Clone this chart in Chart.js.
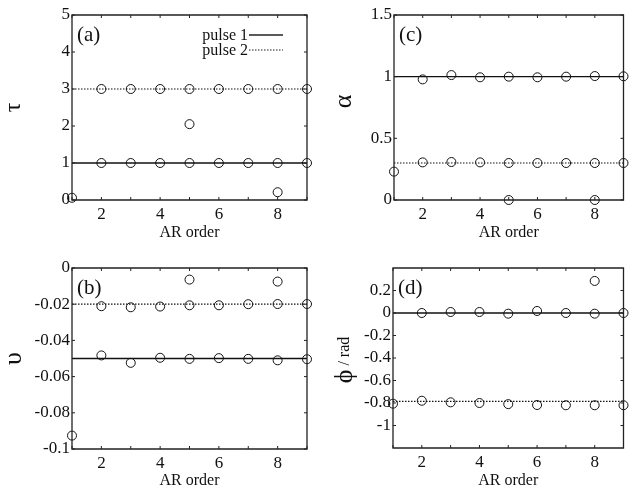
<!DOCTYPE html>
<html>
<head>
<meta charset="utf-8">
<script src="https://cdn.jsdelivr.net/npm/chart.js@4/dist/chart.umd.min.js"></script>
<style>
  html, body { margin: 0; padding: 0; background: #fff; }
  #wrap { position: relative; width: 629px; height: 490px; }
  .panel { position: absolute; }
</style>
</head>
<body>
<div id="wrap">
  <div class="panel" style="left:0;top:0"><canvas id="chartA" width="314" height="245"></canvas></div>
  <div class="panel" style="left:314px;top:0"><canvas id="chartC" width="315" height="245"></canvas></div>
  <div class="panel" style="left:0;top:245px"><canvas id="chartB" width="314" height="245"></canvas></div>
  <div class="panel" style="left:314px;top:245px"><canvas id="chartD" width="315" height="245"></canvas></div>
</div>
<script>
const SERIF = '"Liberation Serif", "DejaVu Serif", serif';

const orders = [1, 2, 3, 4, 5, 6, 7, 8, 9];

// estimates per AR order (null = no estimate for that pulse)
const tau1 = [null, 1.0, 1.0, 1.0, 1.0, 1.0, 1.0, 1.0, 1.0];
const tau2 = [null, 3.0, 3.0, 3.0, 3.0, 3.0, 3.0, 3.0, 3.0];
const tauExtra = [0.06, null, null, null, 2.05, null, null, 0.21, null];
const tauTrue = [1, 3];

const upsilon1 = [null, -0.0483, -0.0524, -0.0496, -0.0502, -0.0498, -0.0502, -0.051, -0.0504];
const upsilon2 = [null, -0.0211, -0.0217, -0.0213, -0.0206, -0.0206, -0.0200, -0.0199, -0.0199];
const upsilonExtra = [-0.0926, null, null, null, -0.0064, null, null, -0.0075, null];
const upsilonTrue = [-0.05, -0.02];

const alpha1 = [null, 0.978, 1.013, 0.995, 1.0, 0.995, 1.0, 1.005, 1.003];
const alpha2 = [null, 0.305, 0.308, 0.305, 0.300, 0.300, 0.300, 0.300, 0.300];
const alphaExtra = [0.23, null, null, null, 0.0, null, null, 0.0, null];
const alphaTrue = [1, 0.3];

const phi1 = [null, 0.0, 0.009, 0.009, -0.006, 0.018, 0.0, -0.006, 0.0];
const phi2 = [null, -0.78, -0.794, -0.80, -0.81, -0.818, -0.82, -0.82, -0.82];
const phiExtra = [-0.806, null, null, null, null, null, null, 0.285, null];
const phiTrue = [0, -0.785];

const pulseLabels = ['pulse 1', 'pulse 2'];

function toPoints(values) {
    return orders.map((x, i) => ({ x: x, y: values[i] })).filter(p => p.y !== null);
}

function trueLine(value, dashed, label) {
    return {
        type: 'line',
        label: label,
        data: [{ x: orders[0], y: value }, { x: orders[orders.length - 1], y: value }],
        borderColor: '#111',
        borderWidth: dashed ? 1.2 : 1.3,
        borderDash: dashed ? [1.5, 1.5] : [],
        pointRadius: 0,
        fill: false,
        order: 2
    };
}

function estimates(values) {
    return {
        type: 'scatter',
        data: toPoints(values),
        pointStyle: 'circle',
        pointRadius: 4.5,
        borderWidth: 1,
        borderColor: '#111',
        backgroundColor: 'rgba(0,0,0,0)',
        clip: false,
        order: 1
    };
}

// frame, inward tick marks, panel tag, rotated y label and optional legend
const decorPlugin = {
    id: 'decor',
    afterDraw(chart, args, opts) {
        const ctx = chart.ctx;
        const a = chart.chartArea;
        const xs = chart.scales.x, ys = chart.scales.y;
        ctx.save();
        ctx.setLineDash([]);
        ctx.lineDashOffset = 0;
        ctx.globalAlpha = 1;
        ctx.strokeStyle = '#222';
        ctx.lineWidth = 1.3;
        ctx.beginPath();
        ctx.rect(a.left, a.top, a.right - a.left, a.bottom - a.top);
        ctx.stroke();

        ctx.lineWidth = 1;
        ctx.beginPath();
        xs.ticks.forEach(t => {
            const px = xs.getPixelForValue(t.value);
            ctx.moveTo(px, a.bottom); ctx.lineTo(px, a.bottom - 3);
            ctx.moveTo(px, a.top); ctx.lineTo(px, a.top + 3);
        });
        ys.ticks.forEach(t => {
            if (t.label === '') return;
            const py = ys.getPixelForValue(t.value);
            ctx.moveTo(a.left, py); ctx.lineTo(a.left + 3, py);
            ctx.moveTo(a.right, py); ctx.lineTo(a.right - 3, py);
        });
        ctx.stroke();

        // panel tag
        ctx.fillStyle = '#111';
        ctx.font = '21px ' + SERIF;
        ctx.textBaseline = 'alphabetic';
        ctx.textAlign = 'left';
        ctx.fillText(opts.tag, a.left + 5, a.top + 26);

        // y axis label, rotated, possibly in several font sizes
        const parts = opts.yLabel;
        const widths = [];
        let total = 0;
        parts.forEach(p => { ctx.font = p.size + 'px ' + SERIF; const w = ctx.measureText(p.text).width; widths.push(w); total += w; });
        const cy = (a.top + a.bottom) / 2 + (opts.yLabelShift || 0);
        ctx.translate(opts.yLabelX, cy);
        ctx.rotate(-Math.PI / 2);
        let x = -total / 2;
        ctx.textBaseline = 'middle';
        parts.forEach((p, i) => {
            ctx.font = p.size + 'px ' + SERIF;
            ctx.fillText(p.text, x, 0);
            x += widths[i];
        });
        ctx.rotate(Math.PI / 2);
        ctx.translate(-opts.yLabelX, -cy);

        if (opts.legend) {
            ctx.font = '16px ' + SERIF;
            ctx.textAlign = 'right';
            ctx.textBaseline = 'alphabetic';
            const lx = a.left + 176;
            pulseLabels.forEach((lab, i) => {
                const y = a.top + 25 + i * 15;
                ctx.fillText(lab, lx, y);
                ctx.beginPath();
                ctx.lineWidth = i === 0 ? 1.3 : 1.2;
                ctx.setLineDash(i === 0 ? [] : [1.5, 1.5]);
                ctx.moveTo(lx + 1, y - 5);
                ctx.lineTo(lx + 35, y - 5);
                ctx.stroke();
            });
            ctx.setLineDash([]);
        }
        ctx.restore();
    }
};

function makePanel(id, cfg) {
    const ctx = document.getElementById(id).getContext('2d');
    new Chart(ctx, {
        type: 'scatter',
        data: {
            datasets: [
                estimates(cfg.est1),
                estimates(cfg.est2),
                estimates(cfg.extra),
                trueLine(cfg.truth[0], false, pulseLabels[0]),
                trueLine(cfg.truth[1], true, pulseLabels[1])
            ]
        },
        options: {
            responsive: false,
            animation: false,
            layout: { padding: cfg.padding },
            plugins: {
                legend: { display: false },
                tooltip: { enabled: false },
                decor: cfg.decor
            },
            scales: {
                x: {
                    type: 'linear',
                    min: 1,
                    max: 9,
                    afterFit: s => { s.height = cfg.xHeight; },
                    grid: { display: false, drawTicks: false },
                    border: { display: false },
                    ticks: {
                        stepSize: 1,
                        padding: 4,
                        maxRotation: 0,
                        autoSkip: false,
                        color: '#111',
                        font: { family: SERIF, size: 17 },
                        callback: v => (v % 2 === 0 ? String(v) : '')
                    },
                    title: {
                        display: true,
                        text: 'AR order',
                        color: '#111',
                        font: { family: SERIF, size: 16 },
                        padding: { top: 0, bottom: cfg.titlePad }
                    }
                },
                y: {
                    type: 'linear',
                    min: cfg.yMin,
                    max: cfg.yMax,
                    afterFit: s => { s.width = cfg.yWidth; },
                    grid: { display: false, drawTicks: false },
                    border: { display: false },
                    ticks: {
                        stepSize: cfg.yStep,
                        padding: 2,
                        autoSkip: false,
                        color: '#111',
                        font: { family: SERIF, size: 17 },
                        callback: v => {
                            const r = Math.round(v * 1e6) / 1e6;
                            return cfg.hideTick && cfg.hideTick(r) ? '' : String(r);
                        }
                    }
                }
            }
        },
        plugins: [decorPlugin]
    });
}

makePanel('chartA', {
    est1: tau1, est2: tau2, extra: tauExtra, truth: tauTrue,
    yMin: 0, yMax: 5, yStep: 1,
    padding: { left: 0, right: 7, top: 15, bottom: 0 },
    yWidth: 72, xHeight: 45, titlePad: 3,
    decor: { tag: '(a)', yLabel: [{ text: 'τ', size: 24 }], yLabelX: 14, legend: true }
});

makePanel('chartC', {
    est1: alpha1, est2: alpha2, extra: alphaExtra, truth: alphaTrue,
    yMin: 0, yMax: 1.5, yStep: 0.5,
    padding: { left: 0, right: 2, top: 15, bottom: 0 },
    yWidth: 80, xHeight: 45, titlePad: 3,
    decor: { tag: '(c)', yLabel: [{ text: 'α', size: 26 }], yLabelX: 30, yLabelShift: -6 }
});

makePanel('chartB', {
    est1: upsilon1, est2: upsilon2, extra: upsilonExtra, truth: upsilonTrue,
    yMin: -0.1, yMax: 0, yStep: 0.02,
    padding: { left: 0, right: 7, top: 23, bottom: 0 },
    yWidth: 72, xHeight: 41, titlePad: 0,
    decor: { tag: '(b)', yLabel: [{ text: 'υ', size: 26 }], yLabelX: 14 }
});

makePanel('chartD', {
    est1: phi1, est2: phi2, extra: phiExtra, truth: phiTrue,
    yMin: -1.2, yMax: 0.4, yStep: 0.2,
    padding: { left: 0, right: 2, top: 23, bottom: 0 },
    yWidth: 79, xHeight: 42, titlePad: 0,
    hideTick: v => v < -1.1 || v > 0.3,
    decor: { tag: '(d)', yLabel: [{ text: 'ϕ', size: 26 }, { text: ' / rad', size: 16 }], yLabelX: 31, yLabelShift: 2 }
});
</script>
</body>
</html>
